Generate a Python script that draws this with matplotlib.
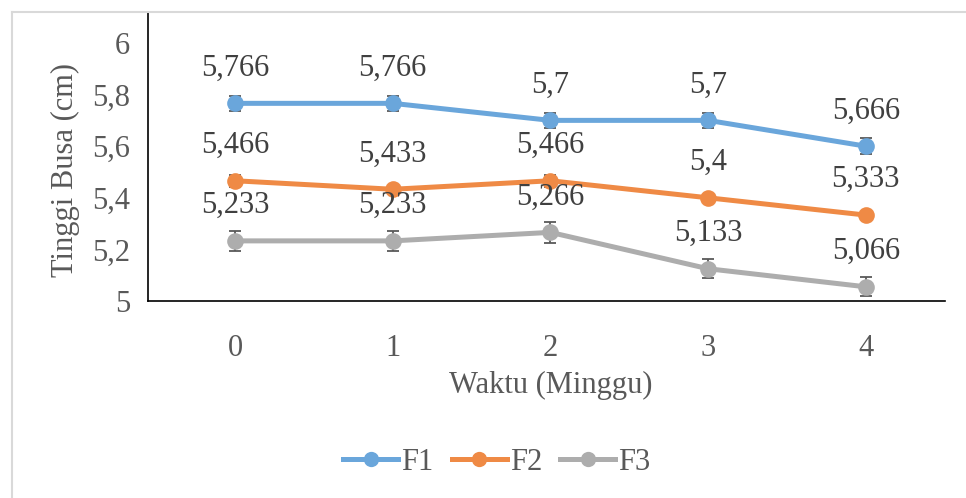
import matplotlib.pyplot as plt
from matplotlib.lines import Line2D

plt.rcParams["font.family"] = ["Liberation Serif", "DejaVu Serif"]

weeks = [0, 1, 2, 3, 4]
f1 = [5.766, 5.766, 5.7, 5.7, 5.6]
f2 = [5.466, 5.433, 5.466, 5.4, 5.333]
f3 = [5.233, 5.233, 5.266, 5.125, 5.055]
f1_err = [0.03, 0.03, 0.03, 0.03, 0.03]
f2_err = [0.023, 0.01, 0.023, 0.01, 0.01]
f3_err = [0.04, 0.04, 0.04, 0.037, 0.037]
f1_labels = ["5,766", "5,766", "5,7", "5,7", "5,666"]
f2_labels = ["5,466", "5,433", "5,466", "5,4", "5,333"]
f3_labels = ["5,233", "5,233", "5,266", "5,133", "5,066"]
y_ticks = [5, 5.2, 5.4, 5.6, 5.8, 6]
y_tick_labels = ["5", "5,2", "5,4", "5,6", "5,8", "6"]

series = [
    ("F1", f1, f1_err, f1_labels, "#6AA6DB"),
    ("F2", f2, f2_err, f2_labels, "#EF8A45"),
    ("F3", f3, f3_err, f3_labels, "#ADADAD"),
]

fig = plt.figure(figsize=(9.66, 4.98), dpi=100)
ax = fig.add_axes([148 / 966, 1 - 301 / 498, (945 - 148) / 966, (301 - 12) / 498])

handles = []
for name, vals, errs, labels, color in series:
    ax.errorbar(weeks, vals, yerr=errs, fmt="none", ecolor="#595959",
                elinewidth=1.3, capsize=4.5, capthick=1.3, zorder=2)
    ax.plot(weeks, vals, color=color, lw=3.6, marker="o", markersize=12,
            markeredgewidth=0, zorder=3)
    for x, y, lab in zip(weeks, vals, labels):
        ax.annotate(lab, (x, y), xytext=(0, 15), textcoords="offset points",
                    ha="center", va="bottom", fontsize=22, color="#404040")
    handles.append(Line2D([], [], color=color, lw=3.6, marker="o",
                          markersize=11, markeredgewidth=0, label=name))

ax.set_xlim(-0.552, 4.502)
ax.set_ylim(5, 6.12)
ax.set_xticks(weeks)
ax.set_xticklabels([str(w) for w in weeks])
ax.set_yticks(y_ticks)
ax.set_yticklabels(y_tick_labels)
ax.tick_params(axis="both", length=0, labelsize=22, labelcolor="#595959")
ax.tick_params(axis="y", pad=13)
ax.tick_params(axis="x", pad=24)
for side in ("top", "right"):
    ax.spines[side].set_visible(False)
for side in ("left", "bottom"):
    ax.spines[side].set_color("#000000")
    ax.spines[side].set_linewidth(1.2)

fig.text(65 / 966, 1 - 170 / 498, "Tinggi Busa (cm)", rotation=90,
         ha="center", va="center", fontsize=22, color="#595959")
fig.text(551 / 966, 1 - 385 / 498, "Waktu (Minggu)", ha="center",
         va="center", fontsize=22, color="#595959")

fig.legend(handles=handles, loc="center", bbox_to_anchor=(497 / 966, 1 - 462 / 498),
           ncol=3, frameon=False, fontsize=22, handlelength=1.8,
           handletextpad=0.1, columnspacing=0.6, labelcolor="#595959")

# outer chart border (cropped on the right and bottom)
fig.add_artist(Line2D([12 / 966, 12 / 966], [0, 1 - 12 / 498],
                      transform=fig.transFigure, color="#D9D9D9", lw=1.5))
fig.add_artist(Line2D([12 / 966, 1], [1 - 12 / 498, 1 - 12 / 498],
                      transform=fig.transFigure, color="#D9D9D9", lw=1.5))

fig.savefig("out.png", dpi=100)
